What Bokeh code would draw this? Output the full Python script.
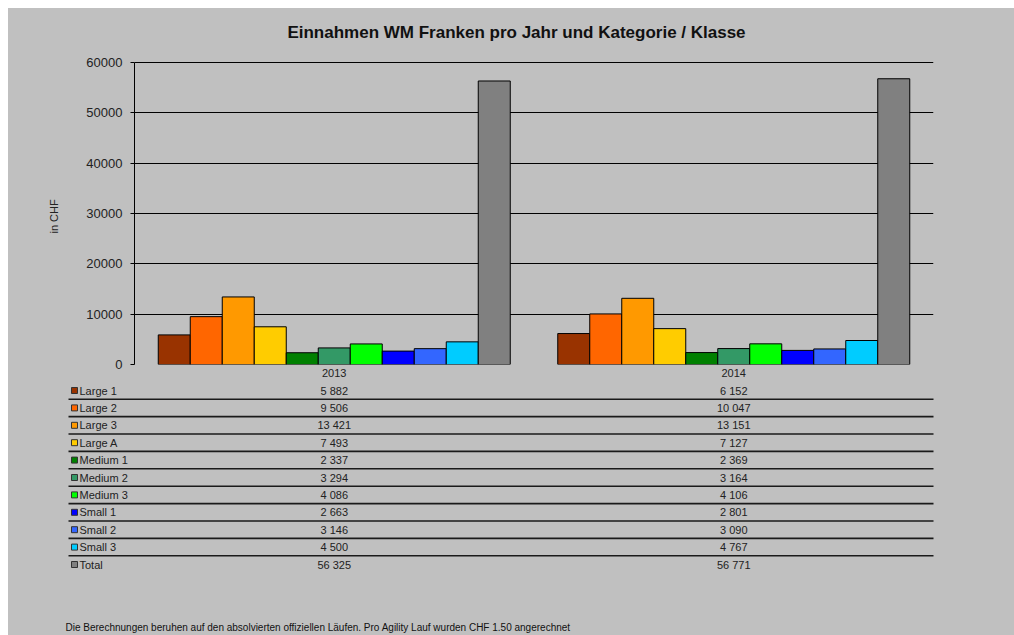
from bokeh.plotting import figure
from bokeh.models import ColumnDataSource, Range1d, FactorRange, FixedTicker, Label, Title
from bokeh.transform import dodge
from bokeh.layouts import column
from bokeh.core.properties import value
from bokeh.embed import file_html
from bokeh.resources import INLINE

# ---------------- data ----------------
years = ["2013", "2014"]
categories = ["Large 1", "Large 2", "Large 3", "Large A", "Medium 1", "Medium 2",
              "Medium 3", "Small 1", "Small 2", "Small 3", "Total"]
values_2013 = [5882, 9506, 13421, 7493, 2337, 3294, 4086, 2663, 3146, 4500, 56325]
values_2014 = [6152, 10047, 13151, 7127, 2369, 3164, 4106, 2801, 3090, 4767, 56771]
colors = ["#993300", "#FF6600", "#FF9900", "#FFCC00", "#008000", "#339966",
          "#00FF00", "#0000FF", "#3366FF", "#00CCFF", "#808080"]
y_ticks = [0, 10000, 20000, 30000, 40000, 50000, 60000]
title_text = "Einnahmen WM Franken pro Jahr und Kategorie / Klasse"
y_label = "in CHF"
footer_text = ("Die Berechnungen  beruhen  auf den  absolvierten  offiziellen  L\u00e4ufen.  "
               "Pro Agility Lauf wurden  CHF  1.50  angerechnet")

# ---------------- style / layout ----------------
BG = "#c0c0c0"
FONT = "Liberation Sans"
TXT = "#222222"
FIG_W = 1006
CHART_H = 374
TABLE_H = 253
LEFT, RIGHT, BOTTOM = 126, 81, 18   # frame borders of the chart (px)
PLOT_TOP = 54                        # px from figure top to the 60000 line
FRAME_W = FIG_W - LEFT - RIGHT       # 799 px for 2 categories
FRAME_H = CHART_H - BOTTOM           # frame reaches the top of the figure
Y_MAX = y_ticks[-1]
PX = len(years) / FRAME_W            # category units per pixel
BAR_W = 32 * PX

# ---------------- chart ----------------
p = figure(width=FIG_W, height=CHART_H, x_range=FactorRange(*years),
           y_range=Range1d(0, Y_MAX * FRAME_H / (FRAME_H - PLOT_TOP)),
           output_backend="svg", toolbar_location=None,
           min_border_left=LEFT, min_border_right=RIGHT, min_border_top=0,
           min_border_bottom=BOTTOM)
p.frame_align = False
p.background_fill_color = None
p.border_fill_color = BG
p.outline_line_color = None

src = ColumnDataSource(dict(year=years, **{c: [a, b] for c, a, b in
                                             zip(categories, values_2013, values_2014)}))
n = len(categories)
for i, (c, col) in enumerate(zip(categories, colors)):
    off = (i - (n - 1) / 2) * BAR_W
    p.vbar(x=dodge("year", off, range=p.x_range), top=c, width=BAR_W, bottom=0,
           source=src, fill_color=col, line_color="#000000", line_width=1)

# title, placed inside the (tall) frame in screen units
p.add_layout(Label(x=516 - 8 - LEFT, y=FRAME_H - 24, x_units="screen",
                   y_units="screen", text=title_text, text_align="center",
                   text_baseline="middle", text_font=FONT, text_font_size="17px",
                   text_font_style="bold", text_color="#111111"))

ya = p.yaxis[0]
ya.ticker = FixedTicker(ticks=y_ticks)
ya.bounds = (0, Y_MAX)
ya.axis_line_color = "#000000"
ya.major_tick_line_color = "#000000"
ya.major_tick_out = 4
ya.major_tick_in = 0
ya.minor_tick_line_color = None
ya.major_label_text_font = FONT
ya.major_label_text_font_size = "13px"
ya.major_label_text_color = TXT
ya.major_label_standoff = 8

# y-axis caption as a side title, centred on the 0..60000 span
p.add_layout(Title(text=y_label, align="left", offset=131, vertical_align="bottom",
                   standoff=47, text_font=FONT, text_font_size="11px",
                   text_font_style="normal", text_color=TXT), "left")

xa = p.xaxis[0]
xa.axis_line_color = None
xa.major_tick_line_color = None
xa.minor_tick_line_color = None
xa.major_label_text_font = FONT
xa.major_label_text_font_size = "11px"
xa.major_label_text_color = TXT
xa.major_label_standoff = -2

p.xgrid.grid_line_color = None
p.ygrid.grid_line_color = "#000000"
p.ygrid.grid_line_width = 1

# ---------------- data table ----------------
ROW = 17.4
top_off = 8  # px from table top to first row centre
t = figure(width=FIG_W, height=TABLE_H, output_backend="svg", toolbar_location=None,
           x_range=Range1d(-LEFT * PX, len(years) + RIGHT * PX),
           y_range=Range1d(-(TABLE_H - top_off) / ROW, top_off / ROW),
           x_axis_location=None, y_axis_location=None,
           min_border_left=0, min_border_right=0, min_border_top=0, min_border_bottom=0)
t.frame_align = False
t.background_fill_color = None
t.border_fill_color = BG
t.outline_line_color = None
t.xgrid.grid_line_color = None
t.ygrid.grid_line_color = None

rows = [-i for i in range(n)]
line_x0 = -(LEFT + 8 - 68) * PX
t.segment(x0=[line_x0] * (n - 1), x1=[len(years)] * (n - 1),
          y0=[r - 0.5 for r in rows[:-1]], y1=[r - 0.5 for r in rows[:-1]],
          line_color="#1a1a1a", line_width=1.6)
t.scatter(x=[-(LEFT + 8 - 74) * PX] * n, y=rows, marker="square", size=6,
          fill_color=colors, line_color="#333333", line_width=1)
t.text(x=[-(LEFT + 8 - 79) * PX] * n, y=rows, text=categories,
       text_font=value(FONT), text_font_size="11px", text_color=TXT,
       text_baseline="middle", text_align="left")

def fmt(v):
    return f"{v:,}".replace(",", " ")

for j, vals in enumerate([values_2013, values_2014]):
    t.text(x=[j + 0.5] * n, y=rows, text=[fmt(v) for v in vals],
           text_font=value(FONT), text_font_size="11px", text_color=TXT,
           text_baseline="middle", text_align="center")

t.text(x=[-(LEFT + 8 - 65) * PX], y=[-(627 - 390) / ROW], text=[footer_text],
       text_font=value(FONT), text_font_size="10px", text_color="#111111",
       text_baseline="middle", text_align="left")

layout = column(p, t, spacing=0, margin=(8, 0, 0, 8), styles={"background-color": BG})
open("out.html", "w").write(file_html(layout, INLINE))
